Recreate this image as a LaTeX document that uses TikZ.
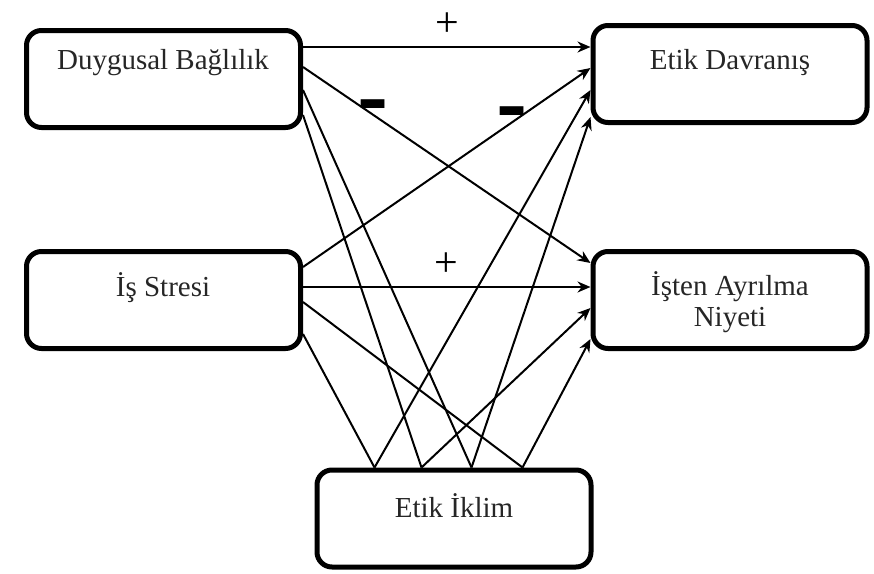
\documentclass[tikz,border=0pt]{standalone}
\usepackage{fontspec}
\setmainfont{Liberation Serif}
\usetikzlibrary{calc,arrows.meta}
\begin{document}
\begin{tikzpicture}[x=1pt,y=-1pt,
  box/.style={draw=black,line width=5pt,rounded corners=15pt,minimum width=274pt,minimum height=97pt,inner sep=0pt},
  lbl/.style={text=black!85,font=\fontsize{29}{31}\selectfont,align=center,inner sep=0pt},
  sign/.style={text=black,font=\fontsize{42}{44}\selectfont,inner sep=0pt},
  conn/.style={line width=2pt},
  arr/.style={line width=2pt,-{Stealth[length=13pt,width=11pt]}}
]
\useasboundingbox (0,0) rectangle (874,573);
% boxes
\node[box] (db) at (163.5,79) {};
\node[box] (ed) at (730,74) {};
\node[box] (is) at (163.5,300) {};
\node[box] (ia) at (730,300) {};
\node[box] (ei) at (454,518.5) {};
% texts
\node[lbl] (tdb) at (163,63) {Duygusal Bağlılık};
\node[lbl] (ted) at (730,63) {Etik Davranış};
\node[lbl] (tis) at (163,288) {İş Stresi};
\node[lbl] (tia) at (730,302) {İşten Ayrılma\\Niyeti};
\node[lbl] (tei) at (454,506) {Etik İklim};
% connection points
\coordinate (db1) at ($(db.north east)+(0,19)$);
\coordinate (db2) at ($(db.north east)+(0,39)$);
\coordinate (db3) at ($(db.north east)+(0,62)$);
\coordinate (db4) at ($(db.north east)+(0,87)$);
\coordinate (is1) at ($(is.north east)+(0,18)$);
\coordinate (is2) at ($(is.north east)+(0,38)$);
\coordinate (is3) at ($(is.north east)+(0,53)$);
\coordinate (is4) at ($(is.north east)+(0,85)$);
\coordinate (ed1) at ($(ed.north west)+(0,24)$);
\coordinate (ed2) at ($(ed.north west)+(0,45)$);
\coordinate (ed3) at ($(ed.north west)+(0,67)$);
\coordinate (ed4) at ($(ed.north west)+(0,94)$);
\coordinate (ia1) at ($(ia.north west)+(0,14)$);
\coordinate (ia2) at ($(ia.north west)+(0,38)$);
\coordinate (ia3) at ($(ia.north west)+(0,59)$);
\coordinate (ia4) at ($(ia.north west)+(0,90)$);
\coordinate (ei1) at ($(ei.north west)+(60,0)$);
\coordinate (ei2) at ($(ei.north west)+(107,0)$);
\coordinate (ei3) at ($(ei.north west)+(157,0)$);
\coordinate (ei4) at ($(ei.north west)+(208,0)$);
% connectors
\draw[arr] (db1) -- (ed1);
\draw[arr] (db2) -- (ia1);
\draw[conn] (db3) -- (ei3);
\draw[conn] (db4) -- (ei2);
\draw[arr] (is1) -- (ed2);
\draw[arr] (is2) -- (ia2);
\draw[conn] (is3) -- (ei4);
\draw[conn] (is4) -- (ei1);
\draw[arr] (ei1) -- (ed3);
\draw[arr] (ei3) -- (ed4);
\draw[arr] (ei2) -- (ia3);
\draw[arr] (ei4) -- (ia4);
% signs
\node[sign] (p1) at (447,25) {+};
\node[sign] (p2) at (446,265) {+};
\node[sign] (m1) at (373,117) {\scalebox{1.1}[3]{\textbf{--}}};
\node[sign] (m2) at (512,124) {\scalebox{1.1}[3]{\textbf{--}}};
\end{tikzpicture}
\end{document}
